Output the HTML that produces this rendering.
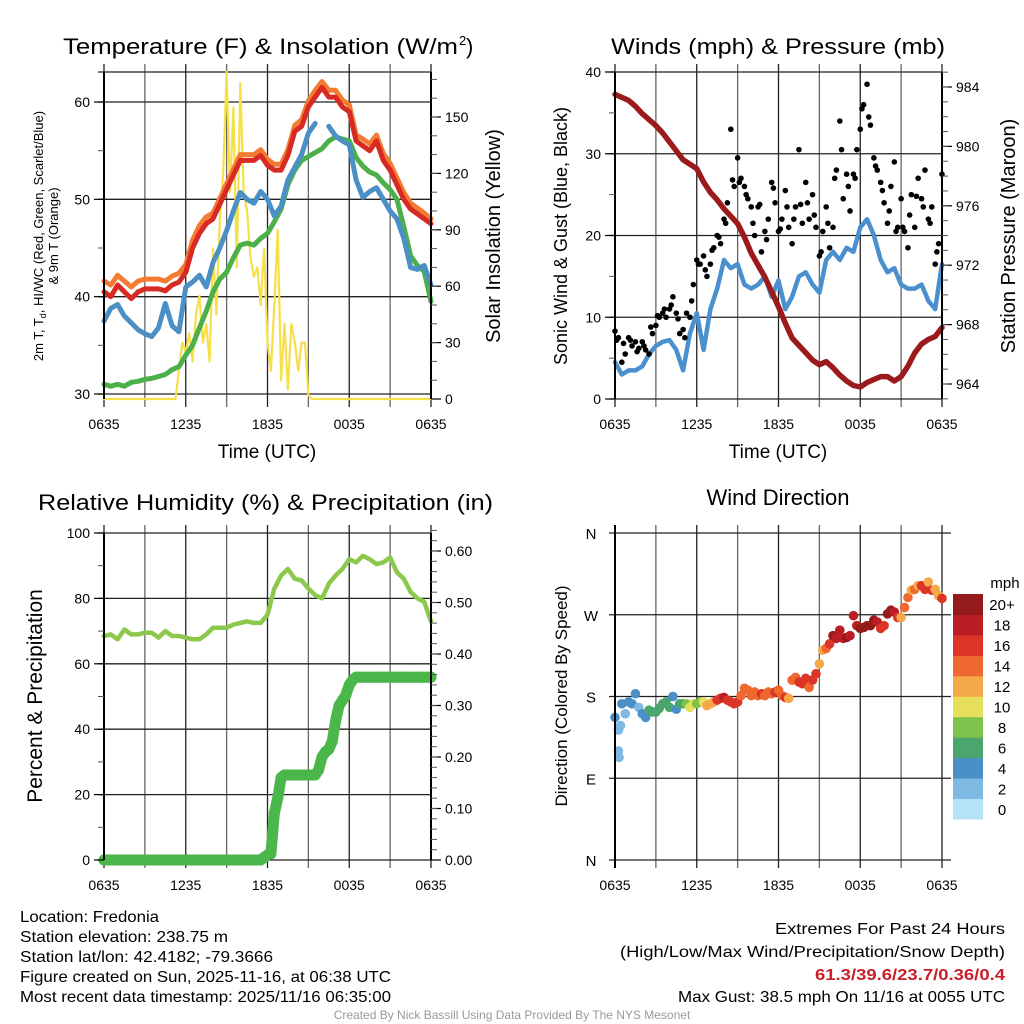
<!DOCTYPE html>
<html><head><meta charset="utf-8"><style>
html,body{margin:0;padding:0;background:#fff;}
svg{display:block;font-family:"Liberation Sans",sans-serif;}
</style></head><body>
<svg id="fig" width="1024" height="1024" viewBox="0 0 1024 1024" xmlns="http://www.w3.org/2000/svg">
<rect width="1024" height="1024" fill="#fff"/>
<g id="layer"></g>
<g fill="#000">
<text x="63" y="54" font-size="22" textLength="395" lengthAdjust="spacingAndGlyphs">Temperature (F) &amp; Insolation (W/m</text>
<text x="459" y="45" font-size="13">2</text>
<text x="466" y="54" font-size="22">)</text>
<text x="611" y="54" font-size="22" textLength="334" lengthAdjust="spacingAndGlyphs">Winds (mph) &amp; Pressure (mb)</text>
<text x="38" y="510" font-size="22" textLength="455" lengthAdjust="spacingAndGlyphs">Relative Humidity (%) &amp; Precipitation (in)</text>
<text x="778" y="505" font-size="22" text-anchor="middle">Wind Direction</text>
<text x="267" y="458" font-size="19" text-anchor="middle">Time (UTC)</text>
<text x="778" y="458" font-size="19" text-anchor="middle">Time (UTC)</text>
<text transform="translate(43,236) rotate(-90)" font-size="13" text-anchor="middle">2m T, T<tspan font-size="9" dy="3">d</tspan><tspan dy="-3">, HI/WC (Red, Green, Scarlet/Blue)</tspan></text>
<text transform="translate(58,236) rotate(-90)" font-size="13" text-anchor="middle">&amp; 9m T (Orange)</text>
<text transform="translate(500,236) rotate(-90)" font-size="20" text-anchor="middle">Solar Insolation (Yellow)</text>
<text transform="translate(567,236) rotate(-90)" font-size="18" text-anchor="middle">Sonic Wind &amp; Gust (Blue, Black)</text>
<text transform="translate(1015,236) rotate(-90)" font-size="20" text-anchor="middle">Station Pressure (Maroon)</text>
<text transform="translate(42,696) rotate(-90)" font-size="21" text-anchor="middle">Percent &amp; Precipitation</text>
<text transform="translate(567,696) rotate(-90)" font-size="17" text-anchor="middle">Direction (Colored By Speed)</text>
</g>
<g font-size="16" fill="#000">
<text x="20" y="922" textLength="139" lengthAdjust="spacingAndGlyphs">Location: Fredonia</text>
<text x="20" y="942" textLength="208" lengthAdjust="spacingAndGlyphs">Station elevation: 238.75 m</text>
<text x="20" y="962" textLength="253" lengthAdjust="spacingAndGlyphs">Station lat/lon: 42.4182; -79.3666</text>
<text x="20" y="982" textLength="371" lengthAdjust="spacingAndGlyphs">Figure created on Sun, 2025-11-16, at 06:38 UTC</text>
<text x="20" y="1002" textLength="371" lengthAdjust="spacingAndGlyphs">Most recent data timestamp: 2025/11/16 06:35:00</text>
<text x="1005" y="934" text-anchor="end" textLength="230" lengthAdjust="spacingAndGlyphs">Extremes For Past 24 Hours</text>
<text x="1005" y="957" text-anchor="end" textLength="385" lengthAdjust="spacingAndGlyphs">(High/Low/Max Wind/Precipitation/Snow Depth)</text>
<text x="1005" y="980" text-anchor="end" fill="#c8202a" font-weight="bold" textLength="190" lengthAdjust="spacingAndGlyphs">61.3/39.6/23.7/0.36/0.4</text>
<text x="1005" y="1002" text-anchor="end" textLength="327" lengthAdjust="spacingAndGlyphs">Max Gust: 38.5 mph On 11/16 at 0055 UTC</text>
<text x="512" y="1019" text-anchor="middle" font-size="12" fill="#999">Created By Nick Bassill Using Data Provided By The NYS Mesonet</text>
</g>
</svg>
<script>
// ---- data (half-hour steps from 0635 UTC unless noted) ----
var xTickLabels = ["0635","1235","1835","0035","0635"];
var tempRed = [40.5,40.0,41.2,40.5,39.8,40.5,40.8,40.8,40.8,40.6,41.2,41.5,42.5,45,46.5,47.5,48,49.5,51,52.5,54,54,54,54.5,53.5,53,53,54.5,57,57.5,59.5,60.5,61.5,60.5,60.5,59.5,59,56,55.5,55,56,54,53,51.5,50,49,48.5,48,47.5];
var temp9m = [41.6,41.2,42.2,41.6,41.0,41.6,41.8,41.8,41.8,41.6,42.1,42.4,43.3,45.8,47.3,48.2,48.6,50.1,51.6,53.1,54.6,54.6,54.6,55.1,54.1,53.6,53.6,55.1,57.6,58.2,60.1,61.2,62.1,61.2,61.2,60.2,59.7,56.6,56.2,55.7,56.6,54.7,53.7,52.2,50.7,49.6,49.1,48.6,48.0];
var dewpoint = [31,30.8,31,30.8,31.2,31.3,31.5,31.6,31.8,32,32.5,32.8,34,35,36.8,38.5,40.5,41.8,42.5,44,45.3,45.5,45.3,46,46.5,47.7,49,51.5,53,54,54.4,54.8,55.2,56,56.4,56.2,56,54.3,53.4,52.8,52.5,51.7,51,50,47.2,44.2,43.2,42.6,39.5];
var heatIndexWindChill = [37.5,38.8,39.2,38,37.3,36.6,36.2,35.9,36.8,39.3,37,36.4,41,41.5,42.2,41,43.5,45,46.8,48.8,50.7,50,49.6,50.8,50,48.3,49.3,52,53.3,54.6,56.8,57.8,null,57.5,56.5,56,55.6,52,50.2,50.8,51.2,50,48.8,48,46,43,42.8,43.2,41.2];
// quarter-hour steps
var solar = [0,0,0,0,0,0,0,0,0,0,0,0,0,0,0,0,0,0,0,0,0,
 0,15,30,25,35,20,45,55,30,40,20,80,45,95,120,174,110,155,70,168,110,100,75,65,70,50,80,30,15,50,90,10,40,5,40,30,15,30,30,2,
 0,0,0,0,0,0,0,0,0,0,0,0,0,0,0,0,0,0,0,0,0,0,0,0,0,0,0,0,0,0,0,0,0,0,0,0];
var pressure = [983.5,983.3,983.1,982.7,982.2,981.8,981.4,980.9,980.3,979.7,979.1,978.8,978.5,977.6,976.9,976.4,975.8,975.3,974.8,973.9,972.8,972,971.2,970.2,969.2,968.1,967.1,966.6,966.1,965.6,965.3,965.5,965.1,964.6,964.2,963.9,963.8,964.1,964.3,964.5,964.5,964.2,964.5,965.2,966.1,966.7,967,967.2,967.8];
var sonicWind = [4.5,3,3.5,3.5,4,5.5,6.5,7,7.2,6,3.5,8,10.5,6,11,13.5,17,16,16.5,14,13.5,14,15,12.5,14.5,11,12.5,15,15.5,14,13,17,18,17,18.5,18,21,22,20,17,15.5,16,14,13.5,13.5,14,12,11,16.5];
// quarter-hour steps
var gust = [8.3,7.5,4.5,5.5,7.5,6.5,7,6.2,7,6,5.5,8,9,10,10.5,10,11,12.5,10.5,8,8.5,10.5,10,14,17,16.5,17.5,15,16.5,18.5,20,19,22,24,33,26,29.5,27,26,24.5,23.5,20,23.5,18,20.5,22,26.5,24,20.5,22,25.5,21,19,23.5,30.5,21.5,26.5,22,25,21,17.5,20.5,23.5,18.5,21,28,34,24.5,27.5,23,27.5,30.5,33,36,38.5,33.5,29.5,28,26.5,24,21.5,26,29,21,24.5,20.5,18.5,25,21,27,24.5,28,22,23.5,16.5,19,27.5];
// half-hour steps offset by 0.125 h
var gustExtra = [7.2,6.8,7.2,5.8,6.5,8.8,10.2,11,11.5,9.8,7.5,12,16.5,15.8,18.2,19.8,21.5,26.8,26.5,25,21.5,23.8,19.5,25.8,20.8,23.5,22,23.8,24,22.5,18,21.5,27,30.5,26,27,35.5,34.5,28.5,25.5,23,20.5,21,22.5,24.8,23.5,21.5,18];
var relHumidity = [68.5,69,67.5,70.5,69,69,69.5,69.5,68,70,68.5,68.5,68,67.5,67.5,69,71,71,71,72,72.5,73,72.5,72.5,75,83,87,89,86,85.5,83,81,80,84.5,87,89,92,91,93,92,90.5,91,92.5,88,86,82,80,79,73];
// quarter-hour steps
var precip = [0,0,0,0,0,0,0,0,0,0,0,0,0,0,0,0,0,0,0,0,0,0,0,0,0,0,0,0,0,0,0,0,0,0,0,0,0,0,0,0,0,0,0,0,0,0,0,
 0.005,0.01,0.012,0.09,0.12,0.16,0.165,0.165,0.165,0.165,0.165,0.165,0.165,0.165,0.165,0.165,
 0.175,0.2,0.21,0.215,0.23,0.27,0.3,0.31,0.32,0.34,0.35,
 0.355,0.355,0.355,0.355,0.355,0.355,0.355,0.355,0.355,0.355,0.355,0.355,0.355,0.355,0.355,0.355,0.355,0.355,0.355,0.355,0.355,0.355,0.355];
// quarter-hour steps
var windDir = [157,143,172,161,174,172,183,168,161,157,165,163,163,167,172,174,168,180,166,172,172,172,168,172,172,174,174,170,172,174,176,178,179,176,174,172,174,181,189,187,181,185,181,183,181,185,183,185,187,181,179,178,198,201,196,194,200,190,198,205,216,231,233,238,247,244,253,244,245,247,269,258,255,256,258,258,264,262,255,258,271,275,273,267,267,278,289,297,298,302,302,298,306,297,298,291,288];
var windSpeed = [4,2,4,2,4,4,4,2,4,4,6,6,6,7,6,6,6,4,5,7,7,8,10,10,9,9,11,12,12,13,16,17,18,17,17,17,16,14,14,14,14,15,15,17,14,15,15,16,14,15,16,12,14,14,17,16,16,15,17,16,13,12,14,17,20,19,18,19,20,19,18,18,20,20,21,20,20,18,16,16,20,20,18,16,12,14,14,12,14,12,17,16,13,16,12,12,16];
var extraDirHours = [0.25,0.3,0.4];
var extraDir = [120,113,148];
var extraSpeed = [2,2,2];
var speedBinLabels = ["0","2","4","6","8","10","12","14","16","18","20+"];
var speedColors = ["#b5e2f7","#7db9e2","#4a8fc5","#4aa66c","#7fc24b","#e6df5b","#f4a84a","#ee682f","#dc3427","#bb1d24","#951a1c"];

// ---- drawing ----
var NS = "http://www.w3.org/2000/svg";
var layer = document.getElementById("layer");
function mk(tag, attrs, parent) {
  var e = document.createElementNS(NS, tag);
  for (var k in attrs) e.setAttribute(k, attrs[k]);
  (parent || layer).appendChild(e);
  return e;
}
function linear(d0, d1, r0, r1) { return function (v) { return r0 + (v - d0) * (r1 - r0) / (d1 - d0); }; }

function panelFrame(name, x0, x1, y0, y1, hLines, frameRight) {
  var g = mk("g", {});
  
  
  var xs = linear(0, 24, x0, x1);
  for (var h = 0; h <= 24; h += 3) {
    var ln = mk("line", {x1: xs(h), x2: xs(h), y1: y0 - 8, y2: y1 + 8, stroke: (h % 6 === 0 ? "#222" : "#666"), "stroke-width": 1.3}, g);
    
    
  }
  hLines.forEach(function (y) {
    var ln = mk("line", {x1: x0 - 6, x2: frameRight, y1: y, y2: y, stroke: "#222", "stroke-width": 1.3}, g);
    
    
  });
  for (var i = 0; i < xTickLabels.length; i++) {
    var t = mk("text", {x: xs(i * 6), y: y1 + 30, "font-size": 14, "text-anchor": "middle"}, g);
    t.textContent = xTickLabels[i];
    
    
  }
  return xs;
}
function axisLine(x, y0, y1) {
  var l = mk("line", {x1: x, x2: x, y1: y0, y2: y1, stroke: "#000", "stroke-width": 2});
  
  
}
function yTicks(name, x, side, vals, ys, fmt, minorVals) {
  var g = mk("g", {});
  
  
  vals.forEach(function (v) {
    mk("line", {x1: x, x2: x + side * 10, y1: ys(v), y2: ys(v), stroke: "#000", "stroke-width": 1.2}, g);
    var t = mk("text", {x: x + side * 14, y: ys(v) + 5, "font-size": 14, "text-anchor": side < 0 ? "end" : "start"}, g);
    t.textContent = fmt(v);
    
    
  });
  (minorVals || []).forEach(function (v) {
    mk("line", {x1: x, x2: x + side * 6, y1: ys(v), y2: ys(v), stroke: "#555", "stroke-width": 1}, g);
  });
}
function polyline(name, arr, step, off, xs, ys, color, w) {
  var segs = [], cur = [];
  arr.forEach(function (v, i) {
    if (v === null) { if (cur.length) segs.push(cur); cur = []; return; }
    cur.push(xs(off + i * step).toFixed(1) + "," + ys(v).toFixed(1));
  });
  if (cur.length) segs.push(cur);
  segs.forEach(function (s) {
    var p = mk("polyline", {points: s.join(" "), fill: "none", stroke: color, "stroke-width": w, "stroke-linejoin": "round", "stroke-linecap": "round"});
    
    
  });
}
function range(a, b, s) { var r = []; for (var v = a; v <= b + 1e-9; v += s) r.push(+v.toFixed(4)); return r; }

// Panel 1: temperature
(function () {
  var x0 = 104, x1 = 431, y0 = 72, y1 = 399;
  var yT = linear(30, 60, 394, 102);
  var yS = linear(0, 150, 399, 117);
  var xs = panelFrame("temp-panel", x0, x1, y0, y1, [y0, yT(30), yT(40), yT(50), yT(60)], x1);
  polyline("solar-insolation-line", solar, 0.25, 0, xs, yS, "#f7df4a", 2.2);
  polyline("dewpoint-line", dewpoint, 0.5, 0, xs, yT, "#4cb04a", 5);
  polyline("heat-index-wind-chill-line", heatIndexWindChill, 0.5, 0, xs, yT, "#4a8fc5", 5);
  polyline("temp-9m-line", temp9m, 0.5, 0, xs, yT, "#f47b32", 5);
  polyline("temp-2m-line", tempRed, 0.5, 0, xs, yT, "#d62a22", 5);
  axisLine(x0, y0, y1); axisLine(x1, y0, y1);
  yTicks("temp-y-ticks", x0, -1, [30, 40, 50, 60], yT, function (v) { return v; }, [35, 45, 55]);
  yTicks("solar-y-ticks", x1, 1, [0, 30, 60, 90, 120, 150], yS, function (v) { return v; }, range(10, 170, 10));
})();

// Panel 2: winds & pressure
(function () {
  var x0 = 615, x1 = 942, y0 = 72, y1 = 399;
  var yW = linear(0, 40, 399, 72);
  var yP = linear(964, 984, 384, 87);
  var xs = panelFrame("wind-panel", x0, x1, y0, y1, [yW(0), yW(10), yW(20), yW(30), yW(40)], x1);
  polyline("sonic-wind-line", sonicWind, 0.5, 0, xs, yW, "#4a90cf", 4.5);
  gust.forEach(function (v, i) {
    var c = mk("circle", {cx: xs(i * 0.25), cy: yW(v), r: 2.8, fill: "#000"});
    
    
  });
  gustExtra.forEach(function (v, i) {
    var c = mk("circle", {cx: xs(0.125 + i * 0.5), cy: yW(v), r: 2.8, fill: "#000"});
    
    
  });
  polyline("station-pressure-line", pressure, 0.5, 0, xs, yP, "#9b1a1c", 5.5);
  axisLine(x0, y0, y1); axisLine(x1, y0, y1);
  yTicks("wind-y-ticks", x0, -1, [0, 10, 20, 30, 40], yW, function (v) { return v; }, [5, 15, 25, 35]);
  yTicks("pressure-y-ticks", x1, 1, [964, 968, 972, 976, 980, 984], yP, function (v) { return v; }, range(963, 985, 1));
})();

// Panel 3: RH & precip
(function () {
  var x0 = 104, x1 = 431, y0 = 533, y1 = 860;
  var yR = linear(0, 100, 860, 533);
  var yPr = linear(0, 0.6, 860, 551);
  var xs = panelFrame("rh-panel", x0, x1, y0, y1, [yR(0), yR(20), yR(40), yR(60), yR(80), yR(100)], x1);
  polyline("relative-humidity-line", relHumidity, 0.5, 0, xs, yR, "#8cc84b", 4.5);
  polyline("precip-band", precip, 0.25, 0, xs, yPr, "#4bb64a", 11);
  precip.forEach(function (v, i) {
    var c = mk("circle", {cx: xs(i * 0.25), cy: yPr(v), r: 5.5, fill: "#4bb64a"});
    
    
  });
  axisLine(x0, y0, y1); axisLine(x1, y0, y1);
  yTicks("rh-y-ticks", x0, -1, [0, 20, 40, 60, 80, 100], yR, function (v) { return v; }, [10, 30, 50, 70, 90]);
  yTicks("precip-y-ticks", x1, 1, [0, 0.1, 0.2, 0.3, 0.4, 0.5, 0.6], yPr, function (v) { return v.toFixed(2); }, range(0.02, 0.64, 0.02));
})();

// Panel 4: wind direction
(function () {
  var x0 = 615, x1 = 942, y0 = 533, y1 = 860;
  var yD = linear(0, 360, 860, 533);
  var xs = panelFrame("direction-panel", x0, x1, y0, y1, [yD(0), yD(90), yD(180), yD(270), yD(360)], 951);
  var binOf = function (s) { return Math.min(10, Math.floor(s / 2)); };
  windDir.forEach(function (v, i) {
    var c = mk("circle", {cx: xs(i * 0.25), cy: yD(v), r: 4.8, fill: speedColors[binOf(windSpeed[i])]});
    
    
  });
  extraDir.forEach(function (v, i) {
    var c = mk("circle", {cx: xs(extraDirHours[i]), cy: yD(v), r: 4.8, fill: speedColors[binOf(extraSpeed[i])]});
    
    
  });
  axisLine(x0, y0 - 8, y1 + 8);
  var dirLabels = ["N", "E", "S", "W", "N"];
  dirLabels.forEach(function (lab, i) {
    var t = mk("text", {x: 591, y: yD(i * 90) + 6, "font-size": 15, "text-anchor": "middle"});
    t.textContent = lab;
    
    
  });
  var cb = mk("g", {});
  
  
  var bh = 225 / speedColors.length;
  speedColors.forEach(function (col, i) {
    var yy = 819 - (i + 1) * bh;
    var r = mk("rect", {x: 953, y: yy, width: 30, height: bh + 0.5, fill: col}, cb);
    
    
    var t = mk("text", {x: 1002, y: yy + bh / 2 + 6, "font-size": 15, "text-anchor": "middle"}, cb);
    t.textContent = speedBinLabels[i];
    
    
  });
  var u = mk("text", {x: 1005, y: 588, "font-size": 15, "text-anchor": "middle"}, cb);
  u.textContent = "mph";
  
  
})();
</script>
</body></html>
